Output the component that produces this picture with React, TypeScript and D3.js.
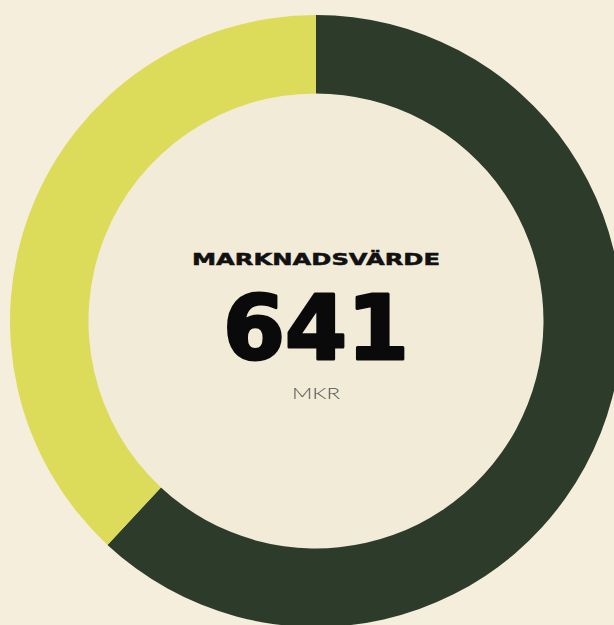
import React, { useRef, useEffect } from 'react';
import * as d3 from 'd3';

// market value split (MKR)
const segments = ['Segment A', 'Segment B'];
const values = [397, 244];
const colors = ['#2d3b2b', '#dcdb5a'];
const title = 'MARKNADSVÄRDE';
const total = '641';
const unit = 'MKR';

export default function App() {
  const svgRef = useRef<SVGSVGElement>(null);

  useEffect(() => {
    const width = 614;
    const height = 625;
    const cx = 316;
    const cy = 321;
    const outer = 306;
    const inner = 227.5;

    const svg = d3.select(svgRef.current);
    svg.selectAll('*').remove();

    svg.append('rect')
      .attr('width', width)
      .attr('height', height)
      .attr('fill', '#f5eedd');

    const g = svg.append('g').attr('transform', `translate(${cx},${cy})`);

    g.append('circle')
      .attr('r', inner)
      .attr('fill', '#f2ebd8');

    const pie = d3.pie<number>().sort(null).value(d => d);
    const arc = d3.arc<d3.PieArcDatum<number>>()
      .innerRadius(inner)
      .outerRadius(outer);

    g.selectAll('path.slice')
      .data(pie(values))
      .enter()
      .append('path')
      .attr('class', 'slice')
      .attr('d', arc)
      .attr('fill', (d, i) => colors[i])
      .append('title')
      .text((d, i) => `${segments[i]}: ${values[i]}`);

    g.append('text')
      .attr('x', 0)
      .attr('y', -56)
      .attr('text-anchor', 'middle')
      .attr('font-family', 'DejaVu Sans')
      .attr('font-weight', 'bold')
      .attr('font-size', 16.5)
      .attr('textLength', 248)
      .attr('lengthAdjust', 'spacingAndGlyphs')
      .attr('fill', '#111')
      .attr('stroke', '#111')
      .attr('stroke-width', 0.5)
      .text(title);

    g.append('text')
      .attr('x', 0)
      .attr('y', 37.5)
      .attr('text-anchor', 'middle')
      .attr('font-family', 'DejaVu Sans')
      .attr('font-weight', 'bold')
      .attr('font-size', 89)
      .attr('textLength', 186)
      .attr('lengthAdjust', 'spacingAndGlyphs')
      .attr('fill', '#0a0a0a')
      .attr('stroke', '#0a0a0a')
      .attr('stroke-width', 3)
      .attr('stroke-linejoin', 'round')
      .text(total);

    g.append('text')
      .attr('x', 0)
      .attr('y', 77.5)
      .attr('text-anchor', 'middle')
      .attr('font-family', 'Lato, DejaVu Sans')
      .attr('font-weight', 300)
      .attr('font-size', 16)
      .attr('textLength', 48)
      .attr('lengthAdjust', 'spacingAndGlyphs')
      .attr('fill', '#555552')
      .text(unit);
  }, []);

  return (
    <svg
      ref={svgRef}
      width={614}
      height={625}
      style={{ position: 'absolute', left: 0, top: 0 }}
    />
  );
}
